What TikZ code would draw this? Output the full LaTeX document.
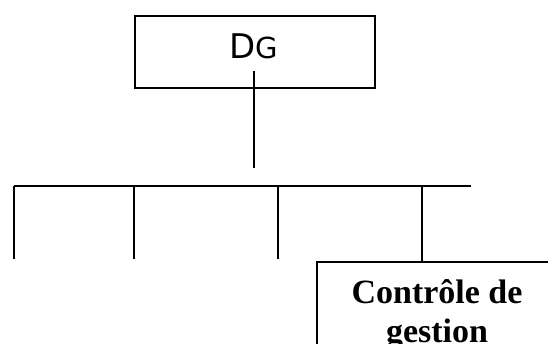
\documentclass[tikz,border=0pt]{standalone}
\usepackage{fontspec}
\setmainfont{Liberation Serif}
\newfontfamily\dgfont{DejaVu Sans}
\begin{document}
\begin{tikzpicture}[x=1pt,y=-1pt,
  ln/.style={line width=1.6pt,black},
  boxnode/.style={draw=black,line width=1.6pt,fill=white,inner sep=0pt,anchor=north west}]
\useasboundingbox (0,0) rectangle (548,343);
\clip (0,0) rectangle (548,343);
% DG box
\node[boxnode,minimum width=240pt,minimum height=72pt] (dg) at (134,15) {};
\node[inner sep=0pt,anchor=base] (dgt) at (254,58) {\dgfont\fontsize{34}{40}\selectfont D\fontsize{29}{34}\selectfont G};
% link from DG downward
\coordinate (s) at (254,71);
\coordinate (e) at (254,168);
\draw[ln] (s) -- (e);
% bus
\coordinate (b0) at (14,186);
\coordinate (b1) at (134,186);
\coordinate (b2) at (278,186);
\coordinate (b3) at (422,186);
\coordinate (b4) at (471,186);
\draw[ln] (b0) -- (b4);
\coordinate (d0) at (14,259);
\coordinate (d1) at (134,259);
\coordinate (d2) at (278,259);
\draw[ln] (b0) -- (d0);
\draw[ln] (b1) -- (d1);
\draw[ln] (b2) -- (d2);
% Controle de gestion box
\node[boxnode,minimum width=242pt,minimum height=120pt] (cg) at (316,261) {};
\node[inner sep=0pt,anchor=base,align=center,font=\bfseries\fontsize{34}{39}\selectfont] (cgt) at (437,342) {Contrôle de\\gestion};
\draw[ln] (b3) -- (b3 |- cg.north);
\end{tikzpicture}
\end{document}
